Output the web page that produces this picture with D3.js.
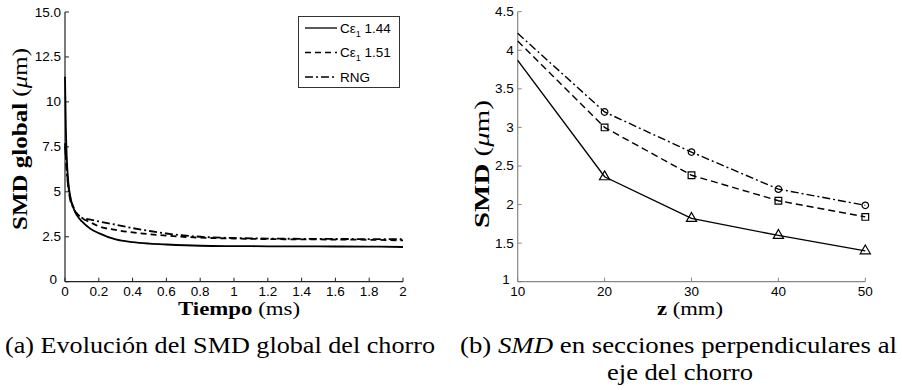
<!DOCTYPE html>
<html>
<head>
<meta charset="utf-8">
<script src="https://cdn.jsdelivr.net/npm/d3@7"></script>
<style>
  body { margin: 0; background: #fff; }
  svg { display: block; }
</style>
</head>
<body>
<svg id="fig" width="902" height="390"></svg>
<script>
// ---- data ----
// (a) global SMD vs time
let tiempo = [0, 0.005, 0.01, 0.02, 0.03, 0.05, 0.07, 0.1, 0.15, 0.2, 0.3, 0.4, 0.5, 0.6, 0.8, 1.0, 1.2, 1.5, 1.8, 2.0];
let smdC144 = [11.4, 8.6, 7.0, 5.5, 4.8, 4.1, 3.7, 3.35, 2.95, 2.7, 2.35, 2.2, 2.12, 2.07, 2.0, 1.98, 1.97, 1.96, 1.95, 1.93];
let smdC151 = [7.7, 7.0, 6.3, 5.3, 4.7, 4.15, 3.8, 3.55, 3.3, 3.08, 2.88, 2.74, 2.64, 2.56, 2.45, 2.4, 2.37, 2.35, 2.33, 2.3];
let smdRNG  = [7.5, 6.9, 6.2, 5.2, 4.6, 4.1, 3.75, 3.55, 3.45, 3.35, 3.17, 2.98, 2.82, 2.68, 2.5, 2.43, 2.4, 2.38, 2.37, 2.36];
let tiempoTicks = [0, 0.2, 0.4, 0.6, 0.8, 1, 1.2, 1.4, 1.6, 1.8, 2];
let smdGlobalTicks = [0, 2.5, 5, 7.5, 10, 12.5, 15];

// (b) SMD in sections along the jet
let zPos = [10, 20, 30, 40, 50];
let zC144 = [3.87, 2.36, 1.82, 1.6, 1.4];
let zC151 = [4.12, 3.0, 2.38, 2.05, 1.84];
let zRNG  = [4.22, 3.2, 2.68, 2.2, 1.99];
let zTicks = [10, 20, 30, 40, 50];
let zSmdTicks = [1, 1.5, 2, 2.5, 3, 3.5, 4, 4.5];

let legendNames = ["1.44", "1.51", "RNG"];

let svg = d3.select("#fig");
let tickFont = "'Liberation Sans', Arial, sans-serif";
let serifFont = "'Liberation Serif', 'DejaVu Serif', serif";
let dashSolid = null, dashDash = "6,4", dashDot = "8,3,2,3";

svg.append("rect").attr("width", 902).attr("height", 390).attr("fill", "#fff");

function drawAxes(g, x, y, xTicks, yTicks, yFmt, axisColor) {
    let x0 = x.range()[0], x1 = x.range()[1];
    let y0 = y.range()[0], y1 = y.range()[1];
    // axis lines
    g.append("line").attr("x1", x0).attr("x2", x0).attr("y1", y0).attr("y2", y1)
        .attr("stroke", axisColor).attr("stroke-width", 1.2);
    g.append("line").attr("x1", x0).attr("x2", x1).attr("y1", y0).attr("y2", y0)
        .attr("stroke", axisColor).attr("stroke-width", 1.2);
    // inward ticks
    for (let t of yTicks) {
        // lowest label sits in the corner next to the first x label, nudge it clear
        let corner = (t === y.domain()[0]);
        g.append("line").attr("x1", x0).attr("x2", x0 + 4).attr("y1", y(t)).attr("y2", y(t))
            .attr("stroke", axisColor);
        g.append("text").attr("x", x0 - (corner ? 8 : 4)).attr("y", y(t) + (corner ? 2 : 4.5))
            .attr("text-anchor", "end")
            .style("font-family", tickFont).style("font-size", 13.5)
            .text(yFmt(t));
    }
    for (let t of xTicks) {
        g.append("line").attr("x1", x(t)).attr("x2", x(t)).attr("y1", y0).attr("y2", y0 - 4)
            .attr("stroke", axisColor);
        g.append("text").attr("x", x(t)).attr("y", y0 + 14.5)
            .attr("text-anchor", "middle")
            .style("font-family", tickFont).style("font-size", 13.5)
            .text(t);
    }
}

function drawYLabel(g, cx, cy, boldPart, len) {
    let t = g.append("text")
        .attr("transform", "translate(" + cx + "," + cy + ") rotate(-90)")
        .attr("text-anchor", "middle")
        .attr("textLength", len).attr("lengthAdjust", "spacingAndGlyphs")
        .style("font-family", serifFont).style("font-size", 21);
    t.append("tspan").style("font-weight", "bold").text(boldPart + " ");
    t.append("tspan").text("(");
    t.append("tspan").style("font-style", "italic").text("\u03bc");
    t.append("tspan").text("m)");
}

function drawXLabel(g, cx, cy, boldPart, unit, len) {
    let t = g.append("text").attr("x", cx).attr("y", cy)
        .attr("text-anchor", "middle")
        .attr("textLength", len).attr("lengthAdjust", "spacingAndGlyphs")
        .style("font-family", serifFont).style("font-size", 19);
    t.append("tspan").style("font-weight", "bold").text(boldPart + " ");
    t.append("tspan").text("(" + unit + ")");
}

// ---------- (a) ----------
let xA = d3.scaleLinear().domain([0, 2]).range([65, 403]);
let yA = d3.scaleLinear().domain([0, 15]).range([281.7, 12]);
let gA = svg.append("g");
drawAxes(gA, xA, yA, tiempoTicks, smdGlobalTicks,
    d => d === 15 ? "15.0" : String(d), "#222");

let lineA = d3.line()
    .x(d => xA(d[0]))
    .y(d => yA(d[1]))
    .curve(d3.curveMonotoneX);

let seriesA = [
    {vals: smdRNG, dash: dashDot},
    {vals: smdC151, dash: dashDash},
    {vals: smdC144, dash: dashSolid}
];
for (let s of seriesA) {
    gA.append("path")
        .datum(tiempo.map((t, i) => [t, s.vals[i]]))
        .attr("d", lineA)
        .attr("fill", "none")
        .attr("stroke", "#000")
        .attr("stroke-width", 1.8)
        .attr("stroke-dasharray", s.dash);
}

// legend
let leg = gA.append("g");
leg.append("rect").attr("x", 298.5).attr("y", 16.5).attr("width", 101).attr("height", 71)
    .attr("fill", "#fff").attr("stroke", "#333");
let legDashes = [dashSolid, dashDash, dashDot];
legendNames.forEach(function(name, i) {
    let ly = 28 + i * 24.5;
    leg.append("line").attr("x1", 305).attr("x2", 337).attr("y1", ly).attr("y2", ly)
        .attr("stroke", "#000").attr("stroke-width", 1.3)
        .attr("stroke-dasharray", legDashes[i]);
    let t = leg.append("text").attr("x", 340).attr("y", ly + 4.5)
        .style("font-family", tickFont).style("font-size", 13.5);
    if (name === "RNG") {
        t.text("RNG");
    } else {
        t.append("tspan").text("C\u03b5");
        t.append("tspan").attr("dy", 4).style("font-size", 9).text("1");
        t.append("tspan").attr("dy", -4).text(" " + name);
    }
});

drawYLabel(gA, 27, 139, "SMD global", 182);
drawXLabel(gA, 239, 315, "Tiempo", "ms", 122);

// ---------- (b) ----------
let xB = d3.scaleLinear().domain([10, 50]).range([517.7, 865.3]);
let yB = d3.scaleLinear().domain([1, 4.5]).range([281.7, 11.7]);
let gB = svg.append("g");
drawAxes(gB, xB, yB, zTicks, zSmdTicks, d => String(d), "#888");

let lineB = d3.line().x(d => xB(d[0])).y(d => yB(d[1]));

let seriesB = [
    {vals: zRNG, dash: dashDot, symbol: d3.symbolCircle, size: 34},
    {vals: zC151, dash: "7,4", symbol: d3.symbolSquare, size: 45},
    {vals: zC144, dash: dashSolid, symbol: d3.symbolTriangle, size: 45}
];
for (let s of seriesB) {
    let pts = zPos.map((z, i) => [z, s.vals[i]]);
    gB.append("path")
        .datum(pts)
        .attr("d", lineB)
        .attr("fill", "none")
        .attr("stroke", "#000")
        .attr("stroke-width", 1.4)
        .attr("stroke-dasharray", s.dash);
    // markers only at z >= 20
    gB.selectAll(null)
        .data(pts.filter(p => p[0] >= 20))
        .enter().append("path")
        .attr("d", d3.symbol().type(s.symbol).size(s.size))
        .attr("transform", d => "translate(" + xB(d[0]) + "," + yB(d[1]) + ")")
        .attr("fill", "none")
        .attr("stroke", "#000")
        .attr("stroke-width", 1.2);
}

drawYLabel(gB, 489, 164, "SMD", 128);
drawXLabel(gB, 690, 315, "z", "mm", 66);

// ---------- captions ----------
svg.append("text").attr("x", 5).attr("y", 353)
    .style("font-family", serifFont).style("font-size", 23)
    .attr("textLength", 430).attr("lengthAdjust", "spacingAndGlyphs")
    .text("(a) Evoluci\u00f3n del SMD global del chorro");

let capB = svg.append("text").attr("x", 460).attr("y", 353)
    .style("font-family", serifFont).style("font-size", 23)
    .attr("textLength", 437).attr("lengthAdjust", "spacingAndGlyphs");
capB.append("tspan").text("(b) ");
capB.append("tspan").style("font-style", "italic").text("SMD");
capB.append("tspan").text(" en secciones perpendiculares al");

svg.append("text").attr("x", 607).attr("y", 380)
    .style("font-family", serifFont).style("font-size", 23)
    .attr("textLength", 146).attr("lengthAdjust", "spacingAndGlyphs")
    .text("eje del chorro");
</script>
</body>
</html>
